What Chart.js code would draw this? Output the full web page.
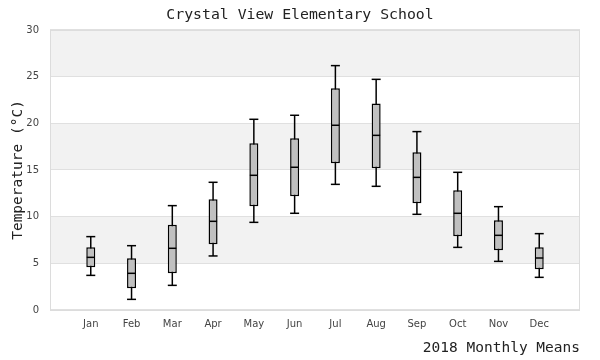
<!DOCTYPE html>
<html><head><meta charset="utf-8">
<script src="https://cdn.jsdelivr.net/npm/chart.js@4"></script>
<style>html,body{margin:0;padding:0;background:#fff}#wrap{width:600px;height:360px}</style>
</head><body><div id="wrap"><canvas id="c" width="600" height="360"></canvas></div>
<script>
const months = ['Jan','Feb','Mar','Apr','May','Jun','Jul','Aug','Sep','Oct','Nov','Dec'];
const whiskerLow  = [3.71, 1.14, 2.64, 5.79, 9.39, 10.36, 13.46, 13.25, 10.25, 6.71, 5.21, 3.50];
const q1          = [4.57, 2.32, 3.93, 7.04, 11.11, 12.18, 15.71, 15.18, 11.43, 7.89, 6.39, 4.36];
const median      = [5.64, 3.93, 6.61, 9.50, 14.43, 15.29, 19.79, 18.71, 14.21, 10.36, 8.00, 5.57];
const q3          = [6.71, 5.54, 9.14, 11.86, 17.86, 18.39, 23.75, 22.11, 16.89, 12.82, 9.61, 6.71];
const whiskerHigh = [7.86, 6.89, 11.18, 13.68, 20.43, 20.86, 26.18, 24.71, 19.11, 14.75, 11.07, 8.18];
const yTicks = [0, 5, 10, 15, 20, 25, 30];
const chartTitle = 'Crystal View Elementary School';
const yTitle = 'Temperature (°C)';
const xTitle = '2018 Monthly Means';

const bandPlugin = {
  id: 'bands',
  beforeDraw(chart) {
    const {ctx, chartArea: a, scales: {y}} = chart;
    ctx.save();
    ctx.fillStyle = '#f2f2f2';
    for (let i = 1; i < yTicks.length; i += 2) {
      const top = y.getPixelForValue(yTicks[i + 1] !== undefined ? yTicks[i + 1] : yTicks[i]);
      const bot = y.getPixelForValue(yTicks[i]);
      ctx.fillRect(a.left, top, a.right - a.left, bot - top);
    }
    ctx.restore();
  },
  beforeDatasetsDraw(chart) {
    const {ctx, chartArea: a} = chart;
    ctx.save();
    ctx.strokeStyle = '#dcdcdc';
    ctx.lineWidth = 1;
    ctx.strokeRect(a.left + 0.5, a.top + 0.5, a.right - a.left - 1, a.bottom - a.top);
    ctx.restore();
  }
};

const xy = (arr) => arr.map((v, i) => ({x: i + 1, y: v}));
const range = (lo, hi) => lo.map((v, i) => ({x: i + 1, y: [v, hi[i]]}));

new Chart(document.getElementById('c'), {
  type: 'bar',
  data: {
    datasets: [
      {type: 'bar', data: range(whiskerLow, whiskerHigh), backgroundColor: '#000', borderWidth: 0,
       grouped: false, maxBarThickness: 1.5, order: 3},
      {type: 'bar', data: range(q1, q3), backgroundColor: '#c0c0c0', borderColor: '#000', borderWidth: 1.5,
       borderSkipped: false, grouped: false, maxBarThickness: 9, order: 2},
      {type: 'scatter', data: xy(median), pointStyle: 'line', pointRadius: 4, borderColor: '#000',
       pointBorderWidth: 1.5, borderWidth: 1.5, order: 1},
      {type: 'scatter', data: xy(whiskerLow).concat(xy(whiskerHigh)), pointStyle: 'line', pointRadius: 4.5,
       borderColor: '#000', pointBorderWidth: 1.5, borderWidth: 1.5, order: 1}
    ]
  },
  options: {
    responsive: false,
    devicePixelRatio: 1,
    animation: false,
    events: [],
    layout: {padding: 0},
    plugins: {
      legend: {display: false},
      tooltip: {enabled: false},
      title: {display: true, text: chartTitle, color: '#222',
        font: {family: 'DejaVu Sans Mono', size: 14.8, weight: 'normal', lineHeight: 1.2},
        padding: {top: 6.1, bottom: 6.1}}
    },
    scales: {
      x: {
        type: 'linear', min: 0, max: months.length + 1, offset: false,
        grid: {display: false, drawTicks: false},
        border: {display: false},
        ticks: {stepSize: 1, autoSkip: false, maxRotation: 0, minRotation: 0, padding: 8,
          color: '#444', font: {family: 'DejaVu Sans', size: 10},
          callback: (v) => (v >= 1 && v <= months.length) ? months[v - 1] : ''},
        title: {display: true, text: xTitle, align: 'end', color: '#222',
          font: {family: 'DejaVu Sans Mono', size: 14.5, lineHeight: 1}, padding: {top: 0, bottom: 5}},
        afterFit: (s) => { s.height = 50; }
      },
      y: {
        min: yTicks[0], max: yTicks[yTicks.length - 1],
        grid: {color: '#e0e0e0', lineWidth: 1, drawTicks: false},
        border: {display: false},
        ticks: {stepSize: 5, padding: 11, color: '#444', font: {family: 'DejaVu Sans', size: 10}},
        title: {display: true, text: yTitle, color: '#222',
          font: {family: 'DejaVu Sans Mono', size: 14.5, lineHeight: 1}, padding: {top: 11, bottom: 0}},
        afterFit: (s) => { s.width = 50; }
      },
      yRight: {
        position: 'right', display: true,
        grid: {display: false, drawTicks: false},
        border: {display: false},
        ticks: {display: false},
        afterFit: (s) => { s.width = 20; }
      }
    }
  },
  plugins: [bandPlugin]
});
</script></body></html>
